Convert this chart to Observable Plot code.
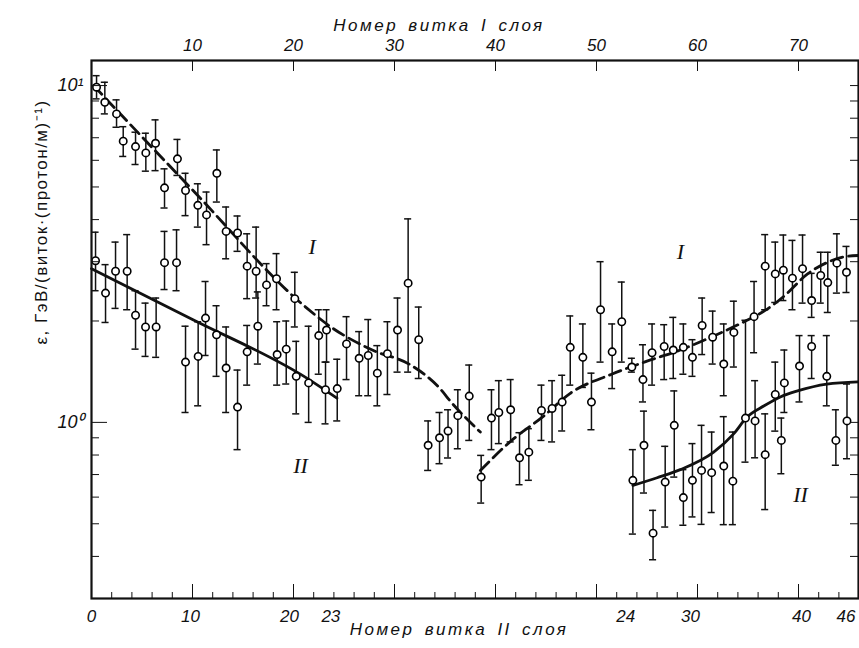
<!DOCTYPE html>
<html><head><meta charset="utf-8">
<script src="https://cdn.jsdelivr.net/npm/d3@7"></script>
<script src="https://cdn.jsdelivr.net/npm/@observablehq/plot@0.6"></script>
<style>body{margin:0;background:#fff}</style>
</head><body><div id="chart"></div>
<script>
// Layer I data (x = turn number of layer I, top axis)
const layerI_turn = [0.5,1.32,2.48,3.14,4.36,5.38,6.34,7.23,8.51,9.31,10.53,11.39,12.41,13.33,14.46,15.41,16.3,17.33,18.32,20.13,22.5,23.27,25.25,26.5,27.4,28.3,29.3,30.3,31.35,32.4,33.33,34.46,35.3,36.27,37.4,38.58,39.6,40.33,41.5,42.38,43.3,44.55,45.6,46.6,47.4,48.65,49.5,50.4,51.55,52.5,53.5,54.6,55.5,56.7,57.6,58.6,59.5,60.46,61.5,62.6,63.6,65.6,66.7,67.7,68.5,69.4,70.4,71.3,72.2,72.9,73.8,74.75];
const layerI_eps = [9.89,8.92,8.24,6.84,6.59,6.31,6.74,4.97,6.06,4.88,4.41,4.13,5.49,3.69,3.65,2.91,2.81,2.56,2.67,2.33,1.81,1.88,1.71,1.55,1.58,1.40,1.60,1.88,2.59,1.76,0.855,0.90,0.943,1.047,1.197,0.688,1.03,1.07,1.09,0.785,0.816,1.085,1.10,1.149,1.67,1.56,1.149,2.16,1.62,1.99,1.46,1.34,1.61,1.68,1.64,1.67,1.56,1.94,1.79,1.49,1.85,2.06,2.91,2.76,2.83,2.68,2.86,2.30,2.73,2.60,2.97,2.79];
const layerI_lo = [9.13,8.24,7.52,6.16,5.83,5.57,5.59,4.33,5.41,4.11,3.80,3.37,4.51,3.06,3.22,2.33,2.34,2.22,2.16,1.92,1.39,1.51,1.34,1.20,1.20,1.12,1.21,1.41,1.41,1.35,0.72,0.754,0.784,0.835,0.884,0.576,0.83,0.865,0.875,0.653,0.673,0.884,0.875,0.943,1.29,1.27,0.951,1.51,1.26,1.51,1.41,1.15,1.29,1.34,1.35,1.39,1.37,1.59,1.49,1.20,1.46,1.61,2.16,2.27,2.30,2.16,2.26,2.05,2.26,2.12,2.42,2.43];
const layerI_hi = [10.7,10.23,9.07,7.55,7.27,7.22,7.91,5.66,6.92,5.49,5.11,4.83,6.44,4.36,4.10,3.63,3.80,2.96,3.17,2.79,2.16,2.16,2.06,1.86,2.02,1.69,1.99,2.34,4.02,2.20,1.01,1.07,1.09,1.25,1.48,0.798,1.25,1.33,1.34,0.932,0.958,1.29,1.33,1.38,2.07,1.96,1.40,3.00,1.96,2.61,1.55,1.70,1.96,1.95,2.05,1.96,1.76,2.34,2.14,1.96,2.29,2.62,3.61,3.43,3.60,3.47,3.60,2.77,3.20,3.20,3.63,3.33];

// Layer II data (positioned on the same horizontal scale)
const layerII_turn = [0.40,1.39,2.38,3.53,4.36,5.35,6.4,7.23,8.42,9.31,10.56,11.29,12.38,13.33,14.46,15.41,16.47,18.38,19.28,20.27,21.5,23.17,24.33,53.6,54.7,55.6,56.8,57.7,58.6,59.5,60.4,61.4,62.6,63.5,64.75,65.7,66.7,67.7,68.3,68.6,70.1,71.3,72.8,73.7,74.8];
const layerII_eps = [3.02,2.42,2.81,2.81,2.08,1.92,1.92,2.98,2.98,1.51,1.57,2.04,1.82,1.45,1.11,1.62,1.93,1.59,1.65,1.37,1.31,1.25,1.26,0.673,0.855,0.469,0.665,0.98,0.598,0.673,0.72,0.709,0.742,0.669,1.03,1.01,0.802,1.21,0.884,1.31,1.47,1.68,1.37,0.884,1.01];
const layerII_lo = [2.46,1.98,2.18,2.16,1.65,1.57,1.56,2.48,2.46,1.07,1.12,1.58,1.37,1.07,0.83,1.29,1.49,1.29,1.30,1.06,1.0,0.99,1.01,0.466,0.617,0.391,0.489,0.688,0.495,0.524,0.498,0.54,0.497,0.497,0.762,0.785,0.551,0.942,0.704,1.07,1.15,1.35,1.12,0.746,0.78];
const layerII_hi = [3.67,2.94,3.43,3.61,2.46,2.26,2.34,3.69,3.73,1.93,1.99,2.62,2.22,1.92,1.43,1.94,2.44,1.99,2.0,1.74,1.93,1.51,1.54,0.83,1.08,0.548,0.849,1.24,0.724,0.865,0.98,0.936,1.04,0.936,2.01,1.33,1.06,1.51,1.03,1.64,1.81,1.81,1.81,1.09,1.30];

// Fitted curves
const fitIa_x = [0.2,10,21.2,23.7,27.8,31.6,34.4,35.7,38.5];
const fitIa_y = [10.0,4.9,2.2,1.92,1.64,1.48,1.27,1.14,0.936];
const fitIb_x = [38.5,41.6,44.7,47.4,51.5,55,58.3,61.5,64.9,66.7,68.5,70.9,72.9,74.5,75.9];
const fitIb_y = [0.72,0.884,1.04,1.22,1.39,1.52,1.64,1.80,2.01,2.15,2.36,2.76,2.99,3.10,3.13];
const fitIIa_x = [0,10,21.2,24.3];
const fitIIa_y = [2.86,2.02,1.36,1.18];
const fitIIb_x = [53.6,56,58.3,61.6,63.6,64.9,66.6,68.2,69.9,72.8,75.9];
const fitIIb_y = [0.65,0.685,0.724,0.816,0.926,1.037,1.12,1.19,1.24,1.30,1.32];

// Axis ticks and labels
const topTicks = [10,20,30,40,50,60,70];
const bottomMinorTicks = d3.range(2,76,2).filter(d => d % 10 !== 0);
const bottomMajorTicks = [10,20,30,40,50,60,70];
const bottomTickAt = [0,9.8,19.6,23.7,52.9,59.3,70.3,74.7];
const bottomTickLabel = ["0","10","20","23","24","30","40","46"];
const yMinorTicks = [0.4,0.5,0.6,0.7,0.8,0.9,2,3,4,5,6,7,8,9];
const yMajorTicks = [1,10];
const yMajorLabel = ["10⁰","10¹"];
const curveNames = ["I","I","II","II"];
const curveNameX = [21.85,58.3,20.7,70.2];
const curveNameY = [3.31,3.20,0.74,0.607];

const topTitle = "Номер витка I слоя";
const bottomTitle = "Номер витка II слоя";
const yTitle = "ε, ГэВ/(виток·(протон/м)⁻¹)";

const ptsI = layerI_turn.map((x,i) => ({x, v: layerI_eps[i], lo: layerI_lo[i], hi: layerI_hi[i]}));
const ptsII = layerII_turn.map((x,i) => ({x, v: layerII_eps[i], lo: layerII_lo[i], hi: layerII_hi[i]}));
const pts = ptsI.concat(ptsII);
const toLine = (xs, ys) => xs.map((x,i) => ({x, y: ys[i]}));
const bottomMap = new Map(bottomTickAt.map((d,i) => [d, bottomTickLabel[i]]));
const yMap = new Map(yMajorTicks.map((d,i) => [d, yMajorLabel[i]]));
const names = curveNames.map((t,i) => ({t, x: curveNameX[i], y: curveNameY[i]}));

const cap = 0.35;
const tickFont = {fontSize: 17, fontStyle: "italic", fontFamily: "Liberation Sans"};
const blank = () => "";

const chart = Plot.plot({
  width: 859, height: 648,
  marginLeft: 91, marginRight: 1, marginTop: 60, marginBottom: 50,
  style: {background: "#fff", fontFamily: "Liberation Sans", color: "#111"},
  x: {domain: [0, 75.94]},
  y: {type: "log", domain: [0.3, 11.87]},
  marks: [
    Plot.line(toLine(fitIa_x, fitIa_y), {x: "x", y: "y", curve: "monotone-x", strokeWidth: 2.8, strokeDasharray: "12,6"}),
    Plot.line(toLine(fitIb_x, fitIb_y), {x: "x", y: "y", curve: "monotone-x", strokeWidth: 2.8, strokeDasharray: "12,6"}),
    Plot.line(toLine(fitIIa_x, fitIIa_y), {x: "x", y: "y", curve: "monotone-x", strokeWidth: 2.8}),
    Plot.line(toLine(fitIIb_x, fitIIb_y), {x: "x", y: "y", curve: "monotone-x", strokeWidth: 2.8}),
    Plot.ruleX(pts, {x: "x", y1: "lo", y2: "hi", strokeWidth: 1.5}),
    Plot.ruleY(pts, {y: "hi", x1: d => d.x - cap, x2: d => d.x + cap, strokeWidth: 1.5}),
    Plot.ruleY(pts, {y: "lo", x1: d => d.x - cap, x2: d => d.x + cap, strokeWidth: 1.5}),
    Plot.dot(pts, {x: "x", y: "v", r: 3.7, fill: "white", stroke: "black", strokeWidth: 1.6}),
    Plot.frame({strokeWidth: 2.2}),
    // left axis ticks (inward)
    Plot.axisY({anchor: "left", ticks: yMinorTicks, tickSize: 8, dx: 8, tickFormat: blank, label: null}),
    Plot.axisY({anchor: "left", ticks: yMajorTicks, tickSize: 16, dx: 16, tickFormat: blank, label: null}),
    Plot.axisY({anchor: "left", ticks: yMajorTicks, tickSize: 0, tickPadding: 8, tickFormat: d => yMap.get(d), label: null, ...tickFont, fontSize: 18}),
    // right axis ticks (inward)
    Plot.axisY({anchor: "right", ticks: yMinorTicks.concat(yMajorTicks), tickSize: 9, dx: -9, tickFormat: blank, label: null}),
    // top axis
    Plot.axisX({anchor: "top", ticks: topTicks, tickSize: 10, dy: 10, tickFormat: blank, label: null}),
    Plot.axisX({anchor: "top", ticks: topTicks, tickSize: 0, tickPadding: 10, label: null, ...tickFont}),
    // bottom axis
    Plot.axisX({anchor: "bottom", ticks: bottomMinorTicks, tickSize: 6, dy: -6, tickFormat: blank, label: null}),
    Plot.axisX({anchor: "bottom", ticks: bottomMajorTicks, tickSize: 14, dy: -14, tickFormat: blank, label: null}),
    Plot.axisX({anchor: "bottom", ticks: bottomTickAt, tickSize: 0, tickPadding: 11, tickFormat: d => bottomMap.get(d), label: null, ...tickFont}),
    // curve names
    Plot.text(names, {x: "x", y: "y", text: "t", fontSize: 22, fontStyle: "italic", fontFamily: "Liberation Serif"}),
    // titles
    Plot.text([topTitle], {text: d => d, frameAnchor: "top", dx: -36, dy: -42, fontSize: 17, fontStyle: "italic"}),
    Plot.text([bottomTitle], {text: d => d, frameAnchor: "bottom", dx: -16, dy: 36, fontSize: 17, fontStyle: "italic"}),
    Plot.text([yTitle], {text: d => d, frameAnchor: "left", rotate: -90, dx: -50, dy: 15, fontSize: 17})
  ]
});
document.getElementById("chart").appendChild(chart);
d3.select(chart).selectAll("text")
  .filter(function() { return this.textContent === topTitle || this.textContent === bottomTitle; })
  .style("letter-spacing", "2.5px").style("word-spacing", "3px");
d3.select(chart).selectAll("text")
  .filter(function() { return this.textContent === yTitle; })
  .style("letter-spacing", "1.5px");
</script>
</body></html>
